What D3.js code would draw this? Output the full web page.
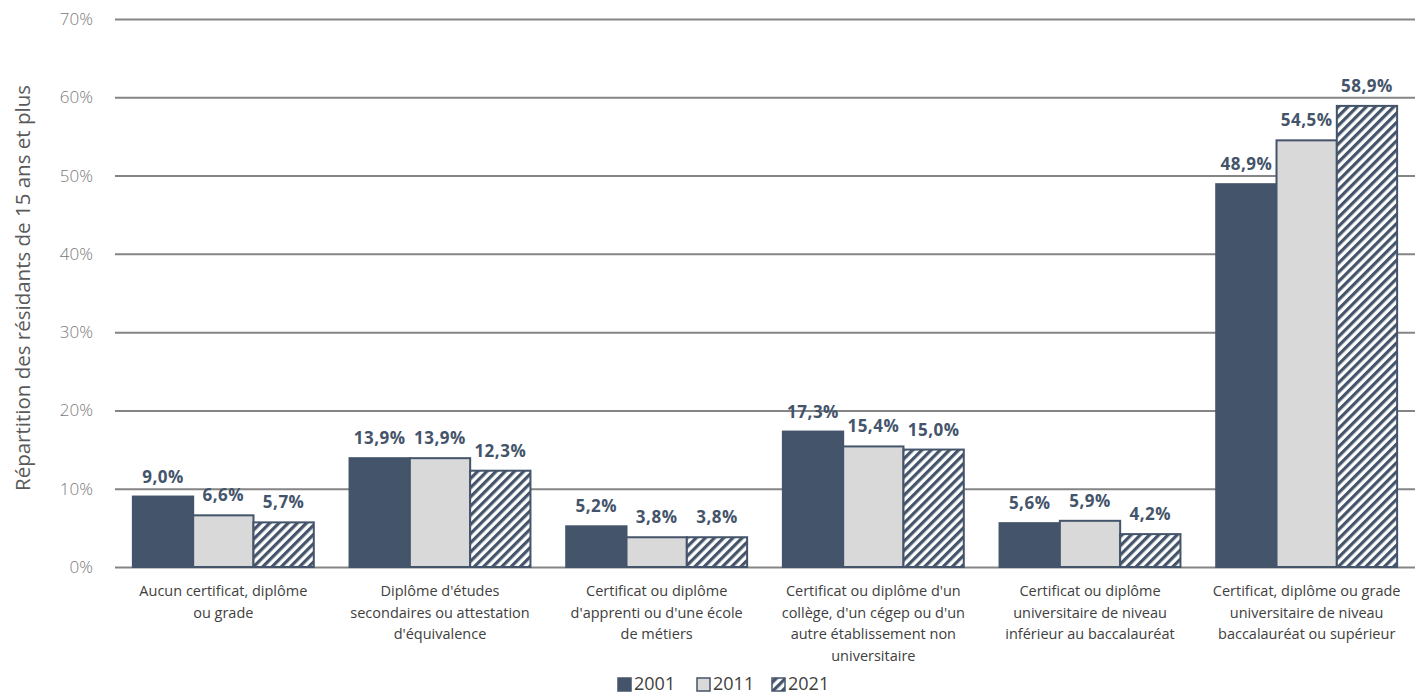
<!DOCTYPE html>
<html><head><meta charset="utf-8">
<script src="https://cdn.jsdelivr.net/npm/d3@7"></script>
<style>body{margin:0;background:#fff;} svg{display:block;}</style>
</head><body>
<svg id="c" width="1420" height="696"></svg>
<script>
const categories = [
  ["Aucun certificat, diplôme","ou grade"],
  ["Diplôme d'études","secondaires ou attestation","d'équivalence"],
  ["Certificat ou diplôme","d'apprenti ou d'une école","de métiers"],
  ["Certificat ou diplôme d'un","collège, d'un cégep ou d'un","autre établissement non","universitaire"],
  ["Certificat ou diplôme","universitaire de niveau","inférieur au baccalauréat"],
  ["Certificat, diplôme ou grade","universitaire de niveau","baccalauréat ou supérieur"]
];
const seriesNames = ["2001","2011","2021"];
const v2001 = [9.0, 13.9, 5.2, 17.3, 5.6, 48.9];
const v2011 = [6.6, 13.9, 3.8, 15.4, 5.9, 54.5];
const v2021 = [5.7, 12.3, 3.8, 15.0, 4.2, 58.9];
const yTicks = [0,10,20,30,40,50,60,70];
const yTitle = "Répartition des résidants de 15 ans et plus";

(function(){
const series = [v2001, v2011, v2021];
const svg = d3.select("#c");
const dark = "#44546a";
const defs = svg.append("defs");
const pat = defs.append("pattern").attr("id","hatch").attr("patternUnits","userSpaceOnUse")
  .attr("width",6.5).attr("height",6.5).attr("patternTransform","rotate(45)");
pat.append("rect").attr("width",6.5).attr("height",6.5).attr("fill","#fff");
pat.append("rect").attr("x",0).attr("y",0).attr("width",3.2).attr("height",6.5).attr("fill",dark);

const L=115, R=1415, T=19, B=567;
const y = d3.scaleLinear().domain([0,70]).range([B, T]);
const x0 = d3.scaleBand().domain(d3.range(categories.length)).range([L,R]).paddingInner(0.165).paddingOuter(0.0825);
const x1 = d3.scaleBand().domain(d3.range(3)).range([0, x0.bandwidth()]);

const font = "'Open Sans', sans-serif";
const yAxis = d3.axisLeft(y).tickValues(yTicks).tickSize(-(R-L)).tickFormat(d=>d+"%");
const ga = svg.append("g").attr("transform",`translate(${L},0)`).call(yAxis);
ga.select(".domain").remove();
ga.selectAll(".tick line").attr("stroke","#858585").attr("stroke-width",2);
ga.selectAll(".tick text").attr("x",-22).attr("fill","#7a7a7a").style("font-family",font).style("font-size","17px").style("font-weight","300");

const fills = [dark, "#d9d9d9", "url(#hatch)"];
series.forEach((vals, si) => {
  svg.append("g").selectAll("rect").data(vals).join("rect")
    .attr("x",(d,i)=>x0(i)+x1(si))
    .attr("y",d=>y(d))
    .attr("width",x1.bandwidth())
    .attr("height",d=>y(0)-y(d))
    .attr("fill",fills[si])
    .attr("stroke",dark).attr("stroke-width",2);
  svg.append("g").selectAll("text").data(vals).join("text")
    .attr("x",(d,i)=>x0(i)+x1(si)+x1.bandwidth()/2)
    .attr("y",d=>y(d)-14)
    .attr("text-anchor","middle")
    .attr("fill",dark).style("font-family",font).style("font-weight","bold").style("font-size","17px")
    .style("letter-spacing","0.5px")
    .text(d=>d.toFixed(1).replace(".",",")+"%");
});

categories.forEach((lines,i)=>{
  const t = svg.append("text").attr("text-anchor","middle").attr("fill","#404040")
    .style("font-family",font).style("font-size","14.5px");
  lines.forEach((l,j)=>{
    t.append("tspan").attr("x",x0(i)+x0.bandwidth()/2).attr("y",596+j*21.7).text(l);
  });
});

svg.append("text").attr("transform",`translate(30,288) rotate(-90)`)
  .attr("text-anchor","middle").attr("fill","#595959")
  .style("font-family",font).style("font-size","20.5px").text(yTitle);

const legX = [618, 697, 772];
const lg = svg.append("g");
seriesNames.forEach((n,i)=>{
  const gx = legX[i];
  lg.append("rect").attr("x",gx).attr("y",678).attr("width",13).attr("height",13)
    .attr("fill",i===2?"url(#hatch)":fills[i]).attr("stroke",dark).attr("stroke-width",1.5);
  lg.append("text").attr("x",gx+16).attr("y",690).attr("fill","#404040")
    .style("font-family",font).style("font-size","18px").text(n);
});
})();
</script>
</body></html>
